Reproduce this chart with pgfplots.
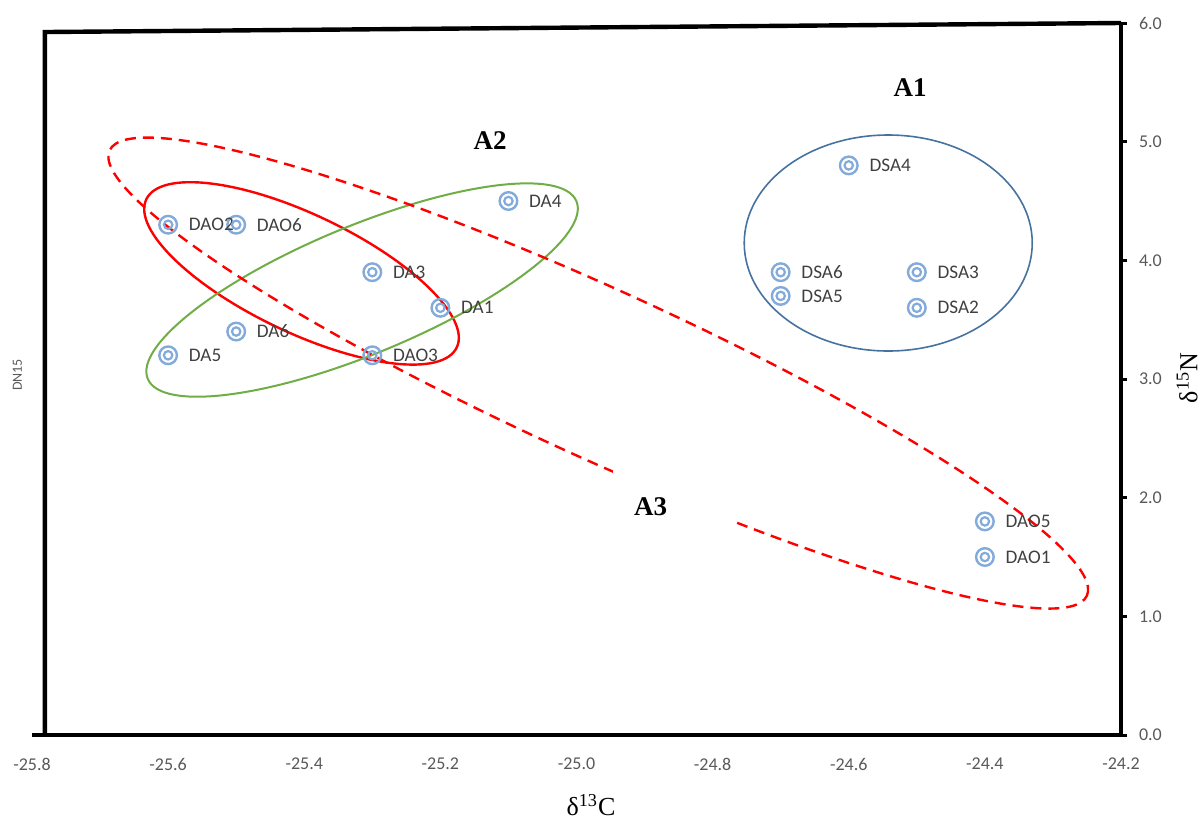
\documentclass[border=0pt]{standalone}
\usepackage{fontspec}
\setmainfont{Liberation Serif}
\newfontfamily\calfont{Carlito}
\usepackage{pgfplots}
\usepackage{pgfplotstable}
\pgfplotsset{compat=1.18}

\definecolor{tickgray}{RGB}{89,89,89}
\definecolor{labgray}{RGB}{64,64,64}
\definecolor{markblue}{RGB}{130,170,218}
\definecolor{grpblue}{RGB}{70,114,160}
\definecolor{grpgreen}{RGB}{112,173,71}

% isotope values: d13C, d15N, sample
\pgfplotstableread{
x y label
-25.6 4.3 DAO2
-25.5 4.3 DAO6
-25.3 3.9 DA3
-25.2 3.6 DA1
-25.1 4.5 DA4
-25.5 3.4 DA6
-25.6 3.2 DA5
-25.3 3.2 DAO3
-24.6 4.8 DSA4
-24.7 3.9 DSA6
-24.7 3.7 DSA5
-24.5 3.9 DSA3
-24.5 3.6 DSA2
-24.4 1.8 DAO5
-24.4 1.5 DAO1
}\isodata

\begin{document}
\begin{tikzpicture}
\path[use as bounding box] (-16pt,-42pt) rectangle (586pt,367.5pt);
\begin{axis}[
  at={(0,0)}, anchor=south west,
  scale only axis, width=544.5pt, height=356pt,
  xmin=-25.8, xmax=-24.2, ymin=0, ymax=6,
  xtick={-25.8,-25.6,-25.4,-25.2,-25.0,-24.8,-24.6,-24.4,-24.2},
  ytick={0,1,2,3,4,5,6},
  axis x line*=bottom, axis y line*=right,
  axis line style={line width=2pt, black, -},
  xtick style={draw=none},
  tick align=outside,
  major tick length=3pt,
  ytick style={line width=1.5pt, black},
  tick label style={font=\calfont\fontsize{9}{10}\selectfont, text=tickgray},
  xticklabel style={yshift=-5pt},
  yticklabel style={xshift=2.5pt},
  /pgf/number format/assume math mode=true,
  /pgf/number format/.cd, fixed, fixed zerofill, precision=1,
  /tikz/.cd,
  clip=false,
]
% sample markers: two concentric rings
\addplot[only marks, mark=o, mark size=4.4pt, mark options={draw=markblue, line width=1.2pt}]
  table[x=x, y=y] {\isodata};
\addplot[only marks, mark=o, mark size=2.1pt, mark options={draw=markblue, line width=1.1pt},
  nodes near coords, point meta=explicit symbolic,
  every node near coord/.style={anchor=west, xshift=6.5pt, yshift=0pt,
    font=\calfont\fontsize{9.6}{10}\selectfont, text=labgray}]
  table[x=x, y=y, meta=label] {\isodata};

% frame completing the box
\draw[line width=2.2pt, line join=miter] (axis cs:-24.2,6) -- (axis cs:-25.781,5.924) -- (axis cs:-25.781,0);

% group ellipses
\path (axis cs:-24.542,4.146) coordinate (cA);
\path (axis cs:-25.404,3.890) coordinate (cB);
\path (axis cs:-25.315,3.750) coordinate (cC);
\path (axis cs:-24.968,3.050) coordinate (cD);
\draw[grpblue, line width=0.8pt] (cA) ellipse [x radius=72pt, y radius=54pt];
\draw[red, line width=1.2pt, rotate around={-25.5:(cB)}] (cB) ellipse [x radius=86pt, y radius=29.5pt];
\draw[grpgreen, line width=1pt, rotate around={22.5:(cC)}] (cC) ellipse [x radius=116pt, y radius=32pt];
\draw[red, line width=1.2pt, dash pattern=on 5.5pt off 3.5pt, rotate around={-24.5:(cD)}] (cD) ellipse [x radius=268.5pt, y radius=42pt];

% group names
\fill[white] (axis cs:-24.946,1.601) rectangle (axis cs:-24.773,2.275);
\node[font=\bfseries\fontsize{13.5}{14}\selectfont] at (axis cs:-24.510,5.452) {A1};
\node[font=\bfseries\fontsize{13.5}{14}\selectfont] at (axis cs:-25.127,5.006) {A2};
\node[font=\bfseries\fontsize{13.5}{14}\selectfont] at (axis cs:-24.891,1.921) {A3};
\end{axis}
% axis titles
\node[font=\fontsize{13}{14}\selectfont] at (279.5pt,-35pt) {δ\textsuperscript{13}C};
\node[font=\fontsize{13}{14}\selectfont, rotate=90] at (577.5pt,178.5pt) {δ\textsuperscript{15}N};
\node[font=\calfont\fontsize{7}{8}\selectfont, text=tickgray, rotate=90] at (-7.25pt,180pt) {DN15};
\end{tikzpicture}
\end{document}
